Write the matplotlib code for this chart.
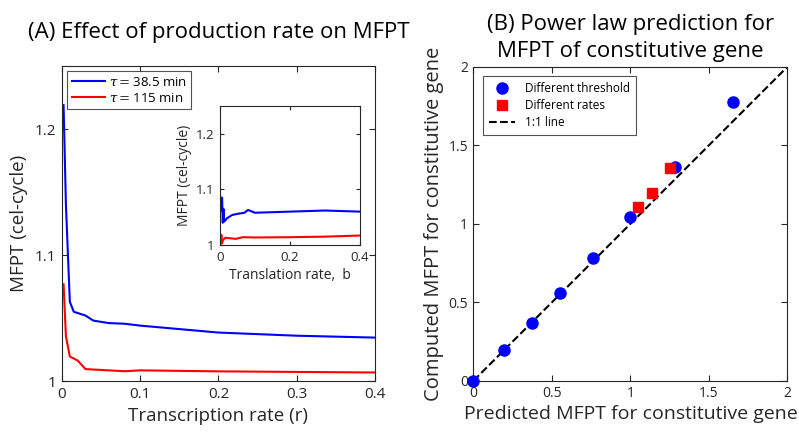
import matplotlib
matplotlib.use('Agg')
import matplotlib.pyplot as plt

plt.rcParams['font.family'] = ['Open Sans', 'DejaVu Sans']
plt.rcParams['mathtext.fontset'] = 'dejavuserif'

# (A) main panel: MFPT vs transcription rate
r_blue = [0.002, 0.005, 0.01, 0.015, 0.03, 0.04, 0.06, 0.08, 0.1, 0.2, 0.3, 0.4]
mfpt_blue = [1.219, 1.14, 1.063, 1.055, 1.052, 1.048, 1.046, 1.0455, 1.044, 1.0385, 1.036, 1.0345]
r_red = [0.002, 0.005, 0.01, 0.02, 0.03, 0.08, 0.1, 0.2, 0.4]
mfpt_red = [1.0768, 1.0355, 1.0195, 1.0163, 1.0095, 1.0078, 1.0085, 1.0077, 1.0068]

# inset: MFPT vs translation rate
b_blue = [0.001, 0.004, 0.006, 0.008, 0.01, 0.012, 0.02, 0.035, 0.05, 0.07, 0.08, 0.1, 0.2, 0.3, 0.4]
ins_blue = [1.087, 1.062, 1.085, 1.040, 1.065, 1.042, 1.048, 1.054, 1.056, 1.058, 1.063, 1.058, 1.060, 1.062, 1.060]
b_red = [0.001, 0.004, 0.006, 0.008, 0.015, 0.03, 0.045, 0.065, 0.1, 0.2, 0.3, 0.4]
ins_red = [1.000, 1.018, 1.003, 1.008, 1.013, 1.012, 1.011, 1.014, 1.0135, 1.014, 1.015, 1.017]

# (B) power law prediction
pred_thr = [0.0, 0.197, 0.371, 0.553, 0.759, 0.997, 1.285, 1.65]
comp_thr = [0.0, 0.195, 0.365, 0.556, 0.779, 1.04, 1.363, 1.777]
pred_rates = [1.048, 1.137, 1.253]
comp_rates = [1.108, 1.193, 1.357]

grey = '#262626'

def matlab_style(ax, size):
    ax.tick_params(direction='in', top=True, right=True, labelsize=size,
                   colors=grey, length=4, width=0.8, pad=4)
    for s in ax.spines.values():
        s.set_color(grey)
        s.set_linewidth(0.8)

fig = plt.figure(figsize=(7.99, 4.37), dpi=100)

ax1 = fig.add_axes([0.0776, 0.128, 0.3917, 0.7208])
ax1.plot(r_blue, mfpt_blue, color='#0000ff', lw=1.5, label=r'$\tau = $38.5 min')
ax1.plot(r_red, mfpt_red, color='#ff0000', lw=1.5, label=r'$\tau = $115 min')
ax1.set_xlim(0, 0.4)
ax1.set_ylim(1, 1.25)
ax1.set_xticks([0, 0.1, 0.2, 0.3, 0.4])
ax1.set_xticklabels(['0', '0.1', '0.2', '0.3', '0.4'])
ax1.set_yticks([1, 1.1, 1.2])
ax1.set_yticklabels(['1', '1.1', '1.2'])
matlab_style(ax1, 11)
ax1.set_xlabel('Transcription rate (r)', fontsize=13.5, color=grey, labelpad=4)
ax1.set_ylabel('MFPT (cel-cycle)', fontsize=13.5, color=grey, labelpad=5)
ax1.set_title('(A) Effect of production rate on MFPT', fontsize=16, pad=20)
leg = ax1.legend(loc='upper left', fontsize=9.5, frameon=True, fancybox=False,
                 edgecolor=grey, handlelength=2.5, borderaxespad=0.4,
                 borderpad=0.35, labelspacing=0.2, handletextpad=0.3)
leg.get_frame().set_linewidth(0.8)

ax2 = fig.add_axes([0.2753, 0.4394, 0.1752, 0.318])
ax2.plot(b_blue, ins_blue, color='#0000ff', lw=1.5)
ax2.plot(b_red, ins_red, color='#ff0000', lw=1.5)
ax2.set_xlim(0, 0.4)
ax2.set_ylim(1, 1.25)
ax2.set_xticks([0, 0.2, 0.4])
ax2.set_xticklabels(['0', '0.2', '0.4'])
ax2.set_yticks([1, 1.1, 1.2])
ax2.set_yticklabels(['1', '1.1', '1.2'])
matlab_style(ax2, 9.5)
ax2.tick_params(length=3)
ax2.set_xlabel('Translation rate,  b', fontsize=10, color=grey, labelpad=3)
ax2.set_ylabel('MFPT (cel-cycle)', fontsize=10, color=grey, labelpad=3)

ax3 = fig.add_axes([0.5926, 0.1288, 0.393, 0.7185])
ax3.plot(pred_thr, comp_thr, 'o', color='#0000ff', ms=8, label='Different threshold',
         clip_on=False, zorder=3)
ax3.plot(pred_rates, comp_rates, 's', color='#ff0000', ms=7.5, label='Different rates',
         zorder=3)
ax3.plot([0, 2], [0, 2], '--', color='k', lw=1.5, label='1:1 line')
ax3.set_xlim(0, 2)
ax3.set_ylim(0, 2)
ax3.set_xticks([0, 0.5, 1, 1.5, 2])
ax3.set_xticklabels(['0', '0.5', '1', '1.5', '2'])
ax3.set_yticks([0, 0.5, 1, 1.5, 2])
ax3.set_yticklabels(['0', '0.5', '1', '1.5', '2'])
matlab_style(ax3, 10)
ax3.set_xlabel('Predicted MFPT for constitutive gene', fontsize=14, color=grey, labelpad=3)
ax3.set_ylabel('Computed MFPT for constitutive gene', fontsize=14.5, color=grey, labelpad=3)
ax3.set_title('(B) Power law prediction for\nMFPT of constitutive gene', fontsize=16,
              pad=7, linespacing=1.35)
leg3 = ax3.legend(loc='upper left', fontsize=8.5, frameon=True, fancybox=False,
                  edgecolor=grey, handlelength=2.2, borderaxespad=0.8,
                  borderpad=0.5, labelspacing=0.35, handletextpad=0.9)
leg3.get_frame().set_linewidth(0.8)

fig.savefig('out.png', dpi=100)
